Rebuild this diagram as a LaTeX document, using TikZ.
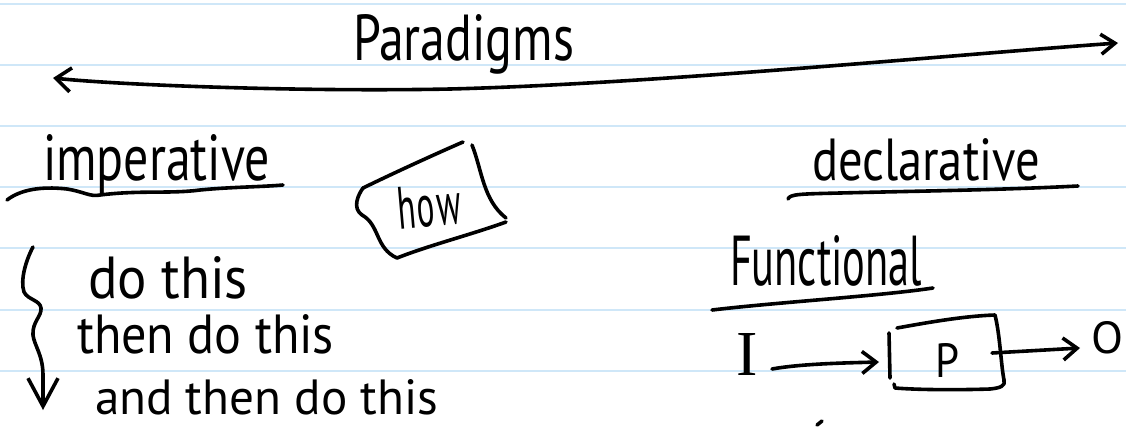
\documentclass[tikz,border=0pt]{standalone}
\usepackage{fontspec}
\usepackage{graphicx}
\setmainfont{PT Sans}
\newfontfamily\serifhand{Liberation Serif}
\usetikzlibrary{arrows.meta}
\newcommand{\hw}[3]{\resizebox{#1pt}{#2pt}{#3}}
\definecolor{ruleblue}{HTML}{CFE7F8}
\begin{document}
\begin{tikzpicture}[x=1pt,y=-1pt,
  pen/.style={line width=3.6pt, line cap=round, line join=round, black},
  hand/.style={inner sep=0pt, outer sep=0pt, anchor=base west},
  tipped/.style={-{Straight Barb[length=14pt,width=22pt]}},
  ruleline/.style={draw=ruleblue, line width=2pt}]
\useasboundingbox[fill=white] (0,0) rectangle (1126,426);
\foreach \k in {0,...,6} \draw[ruleline] (0,{4+61.1*\k}) -- (1126,{4+61.1*\k});

% texts
\node[hand] (par) at (353,60) {\hw{221}{46}{Paradigms}};
\node[hand] (imp) at (43,180) {\hw{227}{46}{imperative}};
\node[hand, rotate=5] (how) at (399,229) {\hw{64}{42}{h\kern0.04em o\kern0.08em w}};
\node[hand] (decl) at (812,180) {\hw{228}{42}{declarative}};
\node[hand] (func) at (730,285) {\hw{192}{50}{Functional}};
\node[hand] (s1) at (88,298) {\hw{160}{42}{do this}};
\node[hand] (s2) at (77,353) {\hw{257}{39}{then do this}};
\node[hand] (s3) at (95,414) {\hw{343}{35}{and then do this}};
\node[hand] (inp) at (736,375) {\resizebox{!}{42pt}{\serifhand I}};
\node[hand] (P) at (935,377) {\hw{24}{34}{P}};
\node[hand] (O) at (1091,353) {\hw{32}{32}{O}};

% long double arrow
\coordinate (Lt) at (53,78);
\coordinate (Rt) at (1118,43);
\draw[pen, {Straight Barb[length=15pt,width=24pt]}-{Straight Barb[length=14pt,width=20pt]}]
  (Lt) .. controls (120,85) and (300,92) .. (450,89)
       .. controls (650,84) and (950,55) .. (Rt);

% underlines
\draw[pen] (7,200) .. controls (20,190) and (40,186) .. (67,189)
  .. controls (85,192) and (90,197) .. (100,195)
  .. controls (140,190) and (170,194) .. (200,190)
  .. controls (230,187) and (260,187) .. (283,185);
\draw[pen] (788,199) .. controls (790,194) and (800,194) .. (840,193)
  .. controls (920,191) and (1000,190) .. (1078,186);
\draw[pen] (712,310) .. controls (780,302) and (880,296) .. (933,288);

% how box
\draw[pen] (363,188) .. controls (400,170) and (440,152) .. (463,142);
\draw[pen] (472,145) .. controls (482,170) and (483,200) .. (506,218);
\draw[pen] (506,222) .. controls (470,235) and (430,245) .. (397,258);
\draw[pen] (397,258) .. controls (375,248) and (380,225) .. (362,215)
  .. controls (352,208) and (358,195) .. (363,188);

% brace with arrow
\draw[pen, -{Straight Barb[length=28pt,width=30pt]}]
  (33,247) .. controls (26,260) and (20,280) .. (24,292)
  .. controls (28,300) and (40,300) .. (41,308)
  .. controls (42,316) and (32,322) .. (33,335)
  .. controls (34,345) and (43,355) .. (43,375) -- (43,410);

% functional diagram
\coordinate (inS) at (772,369);
\coordinate (pin) at (879,362);
\draw[pen, tipped] (inS) .. controls (800,364) and (840,363) .. (pin);
\draw[pen] (889,333) -- (890,378);
\draw[pen] (897,328) .. controls (930,322) and (965,316) .. (995,315)
  .. controls (1000,335) and (1001,365) .. (1004,380)
  .. controls (1006,386) and (1000,388) .. (990,389)
  .. controls (960,390) and (920,390) .. (895,388) -- (894,384);
\coordinate (pout) at (992,353);
\coordinate (oE) at (1080,348);
\draw[pen, tipped] (pout) -- (oE);
\draw[pen] (817,425) -- (822,421);
\end{tikzpicture}
\end{document}
